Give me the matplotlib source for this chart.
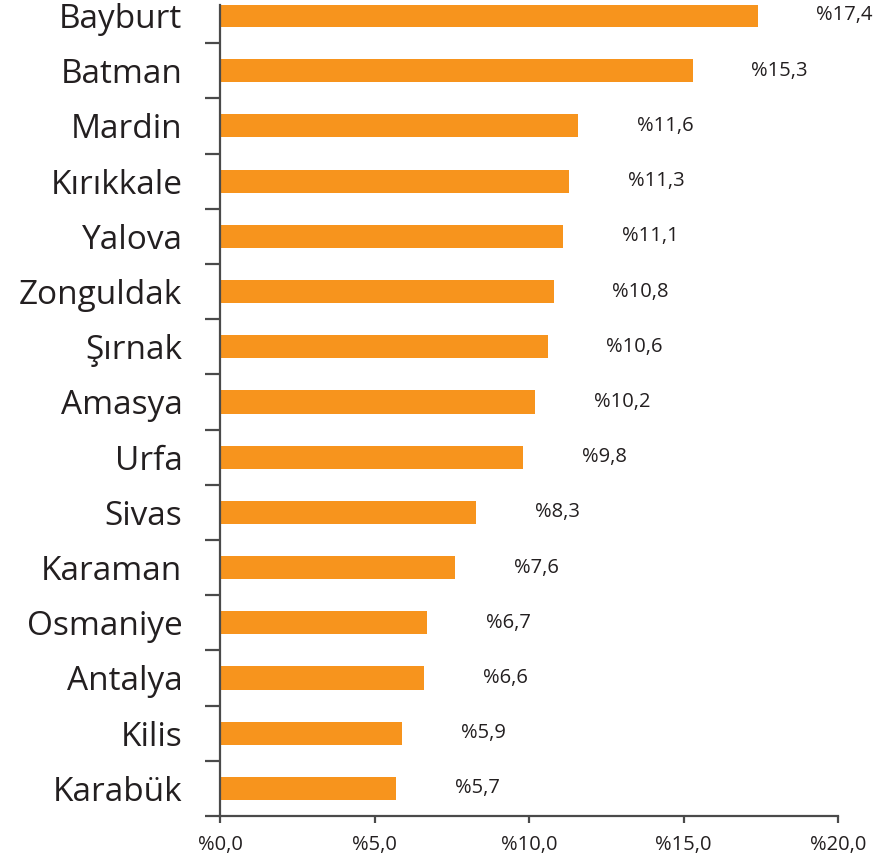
import numpy as np
import matplotlib as mpl
mpl.use('Agg')
from matplotlib import pyplot as pl
from matplotlib.ticker import FixedLocator, NullFormatter
from matplotlib.lines import Line2D

mpl.rcParams.update({
    'font.family': ['Open Sans', 'DejaVu Sans'],
    'axes.linewidth': 1.6,
})

# data (top to bottom)
provinces = ['Bayburt', 'Batman', 'Mardin', 'Kırıkkale', 'Yalova', 'Zonguldak',
             'Şırnak', 'Amasya', 'Urfa', 'Sivas', 'Karaman', 'Osmaniye',
             'Antalya', 'Kilis', 'Karabük']
rates = [17.4, 15.3, 11.6, 11.3, 11.1, 10.8, 10.6, 10.2, 9.8, 8.3, 7.6, 6.7,
         6.6, 5.9, 5.7]
xticks = [0, 5, 10, 15, 20]

orange = '#f7941d'
dark = '#4a4a4a'
textc = '#231f20'

fig = pl.figure(figsize=(8.82, 8.64), dpi=100)
ax = fig.add_axes([220/882, 1 - 816/864, (838 - 220)/882, (816 - 5)/864])

n = len(provinces)
ypos = np.arange(n)[::-1]
ax.barh(ypos, rates, height=0.42, color=orange, zorder=2)

for y, v in zip(ypos, rates):
    ax.text(v + 1.9, y, '%' + ('%.1f' % v).replace('.', ','), ha='left',
            va='center', fontsize=14.5, color=textc)

ax.set_xlim(0, 20)
ax.set_ylim(-0.5001, 14.19)

ax.spines['top'].set_visible(False)
ax.spines['right'].set_visible(False)
for s in ['left', 'bottom']:
    ax.spines[s].set_color(dark)

# category boundaries as major ticks, names at minor ticks
ax.yaxis.set_major_locator(FixedLocator(np.arange(0.5, n - 1, 1.0)))
ax.yaxis.set_major_formatter(NullFormatter())
ax.yaxis.set_minor_locator(FixedLocator(ypos))
ax.set_yticklabels(provinces, minor=True)
ax.tick_params(axis='y', which='major', length=11, width=1.6, color=dark)
ax.tick_params(axis='y', which='minor', length=0, pad=27, labelsize=24,
               labelcolor=textc)

# bottom boundary tick (x axis line runs a little past the y axis)
ax.add_line(Line2D([-15/618, 0], [0, 0], transform=ax.transAxes,
                   color=dark, linewidth=1.6, clip_on=False,
                   solid_capstyle='butt'))

ax.set_xticks(xticks)
ax.set_xticklabels(['%' + ('%.1f' % t).replace('.', ',') for t in xticks])
ax.tick_params(axis='x', length=5, width=1.6, color=dark, pad=9,
               labelsize=14.5, labelcolor=textc)

fig.savefig('out.png', dpi=100)
